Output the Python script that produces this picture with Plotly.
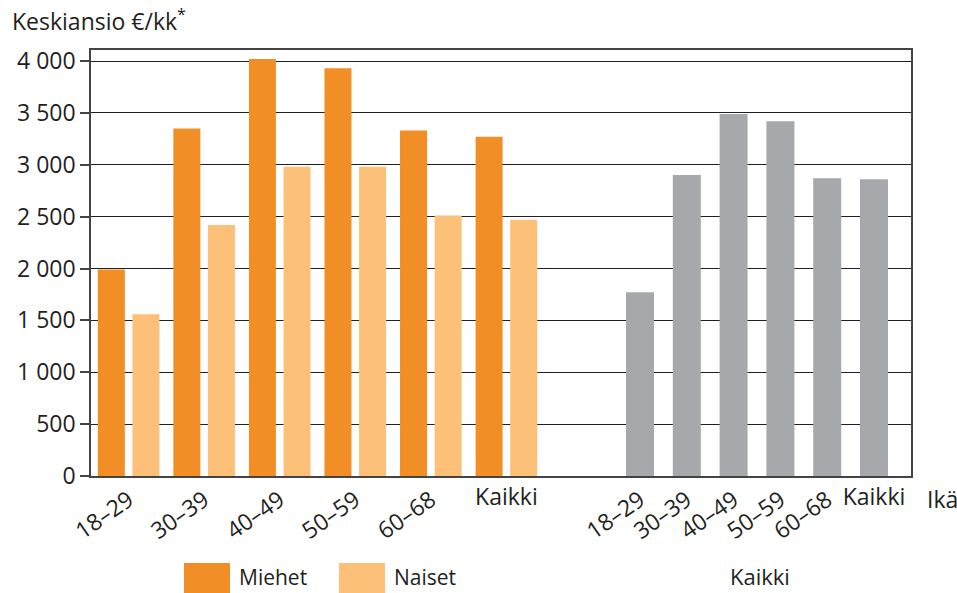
import plotly.graph_objects as go

# ---- data ----
age_groups = ["18–29", "30–39", "40–49", "50–59", "60–68", "Kaikki"]
miehet = [1990, 3350, 4020, 3930, 3330, 3270]
naiset = [1560, 2420, 2980, 2980, 2510, 2470]
kaikki = [1770, 2900, 3490, 3420, 2870, 2860]
y_ticks = [0, 500, 1000, 1500, 2000, 2500, 3000, 3500, 4000]
y_tick_labels = ["0", "500", "1 000", "1 500", "2 000", "2 500", "3 000", "3 500", "4 000"]

# ---- layout helpers (x axis measured in plot pixels) ----
X_RANGE = [0, 820]
left_start, left_pitch, pair_off = 37.6, 75.56, 17.3
right_start, right_pitch = 549.0, 46.8
n = len(age_groups)
left_centers = [left_start + left_pitch * i for i in range(n)]
right_centers = [right_start + right_pitch * i for i in range(n)]

ORANGE = "#F28E26"
LIGHT = "#FCC078"
GRAY = "#A7A8AB"
TXT = "#231F20"
FONT = "Open Sans"
FS = 23

fig = go.Figure()
fig.add_trace(go.Bar(x=[c - pair_off for c in left_centers], y=miehet, width=27,
                     marker=dict(color=ORANGE, line=dict(width=0)), name="Miehet"))
fig.add_trace(go.Bar(x=[c + pair_off for c in left_centers], y=naiset, width=27,
                     marker=dict(color=LIGHT, line=dict(width=0)), name="Naiset"))
fig.add_trace(go.Bar(x=right_centers, y=kaikki, width=28,
                     marker=dict(color=GRAY, line=dict(width=0)), name="Kaikki"))

rot_vals = left_centers[:-1] + right_centers[:-1]
rot_text = age_groups[:-1] + age_groups[:-1]

fig.update_layout(
    width=957, height=593,
    margin=dict(l=91, r=46, t=50, b=117, autoexpand=False),
    paper_bgcolor="white", plot_bgcolor="white",
    barmode="overlay",
    showlegend=False,
    font=dict(family=FONT, size=FS, color=TXT),
    xaxis=dict(range=X_RANGE, tickmode="array", tickvals=rot_vals, ticktext=rot_text,
               tickangle=-35, showgrid=False, zeroline=False, automargin=False,
               showline=True, linecolor="#444", linewidth=1.5, mirror=True,
               ticks="", tickfont=dict(family=FONT, size=FS, color=TXT)),
    xaxis2=dict(range=X_RANGE, overlaying="x", anchor="y", side="bottom",
                tickmode="array", tickvals=[left_centers[-1], right_centers[-1]],
                ticktext=[age_groups[-1], age_groups[-1]], tickangle=0, automargin=False,
                showgrid=False, zeroline=False, showline=False, ticks="",
                ticklabelstandoff=5,
                tickfont=dict(family=FONT, size=FS, color=TXT)),
    yaxis=dict(range=[0, 4106], tickmode="array", tickvals=y_ticks, ticktext=y_tick_labels,
               showgrid=True, gridcolor=TXT, gridwidth=1.2, zeroline=False, automargin=False,
               showline=True, linecolor="#444", linewidth=1.5, mirror=True,
               ticks="outside", ticklen=9, tickwidth=1.5, tickcolor="#444",
               tickfont=dict(family=FONT, size=FS, color=TXT)),
)

# invisible trace to activate xaxis2
fig.add_trace(go.Scatter(x=[left_centers[-1]], y=[0], xaxis="x2", mode="markers",
                         marker=dict(opacity=0), hoverinfo="skip", showlegend=False))

def px_to_paper_x(px):
    return (px - 91) / 820

def px_to_paper_y(py):
    return (476 - py) / 426

def ann(text, px, py, xanchor="left", yanchor="middle", size=FS):
    return dict(text=text, x=px_to_paper_x(px), y=px_to_paper_y(py),
                xref="paper", yref="paper", xanchor=xanchor, yanchor=yanchor,
                showarrow=False, font=dict(family=FONT, size=size, color=TXT))

annotations = [
    ann("Keskiansio €/kk<sup>*</sup>", 10, 20),
    ann("Ikä", 925, 499),
    ann("Kaikki", 760, 593, "center", "bottom", 22),
    ann("Miehet", 237, 593, "left", "bottom", 21),
    ann("Naiset", 392, 593, "left", "bottom", 21),
]
fig.update_layout(annotations=annotations)

shapes = [
    dict(type="rect", xref="paper", yref="paper",
         x0=px_to_paper_x(184), x1=px_to_paper_x(230),
         y0=px_to_paper_y(563), y1=px_to_paper_y(600),
         fillcolor=ORANGE, line=dict(width=0)),
    dict(type="rect", xref="paper", yref="paper",
         x0=px_to_paper_x(339), x1=px_to_paper_x(385),
         y0=px_to_paper_y(563), y1=px_to_paper_y(600),
         fillcolor=LIGHT, line=dict(width=0)),
]
fig.update_layout(shapes=shapes)

fig.write_html("out.html", config={"displayModeBar": False},
               post_script="document.body.style.margin='0';document.body.style.padding='0';")
